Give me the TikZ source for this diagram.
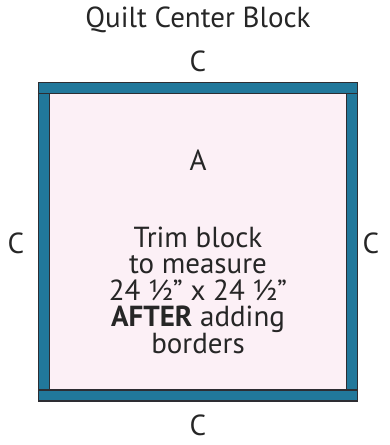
\documentclass[tikz,border=0pt]{standalone}
\usepackage{fontspec}
\setmainfont{PT Sans}
\definecolor{strip}{RGB}{33,120,155}
\definecolor{inner}{RGB}{252,240,246}
\definecolor{edge}{RGB}{45,45,50}
\begin{document}
\begin{tikzpicture}[x=1pt,y=-1pt,
  lbl/.style={font=\fontsize{29}{26}\selectfont, text=black!85, inner sep=0pt},
  stripbox/.style={fill=strip, draw=edge, line width=1.2pt},
]
\useasboundingbox (0,0) rectangle (390,445);
\node[lbl] (title) at (198,20) {Quilt Center Block};
% block
\path[fill=inner, draw=edge, line width=1pt] (44,88) rectangle (352,396);
\draw[stripbox] (38.5,82.5) rectangle (357.5,93.5);
\draw[stripbox] (38.5,390) rectangle (357.5,401);
\draw[stripbox] (38.5,93.5) rectangle (49.5,390);
\draw[stripbox] (346.5,93.5) rectangle (357.5,390);
\coordinate (blk) at (198,242);
\node[lbl] (ctop) at (198,61) {C};
\node[lbl] (cbot) at (198,425) {C};
\node[lbl] (cleft) at (16,243) {C};
\node[lbl] (cright) at (371,243) {C};
\node[lbl] (a) at (198,160) {A};
\node[lbl, align=center, font=\fontsize{29}{26.5}\selectfont] (note) at (198,290)
  {Trim block\\to measure\\24 ½\textquotedblright\ x 24 ½\textquotedblright\\\textbf{AFTER} adding\\borders};
\end{tikzpicture}
\end{document}
